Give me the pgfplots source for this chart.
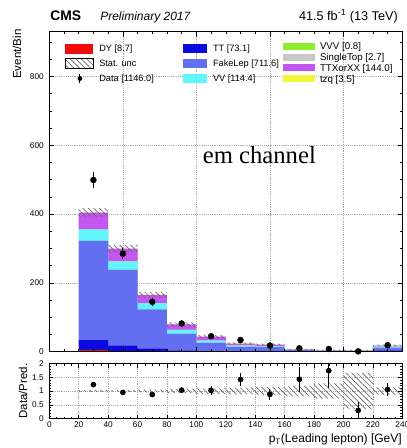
\documentclass[border=0pt]{standalone}
\usepackage{fontspec}
\setmainfont{Liberation Sans}
\newfontfamily\serif{Liberation Serif}
\usepackage{pgfplots}
\usepackage{pgfplotstable}
\pgfplotsset{compat=1.18}
\usetikzlibrary{patterns.meta}

\definecolor{cDY}{RGB}{245,10,10}
\definecolor{cTT}{RGB}{10,10,225}
\definecolor{cFake}{RGB}{100,110,240}
\definecolor{cVV}{RGB}{95,245,250}
\definecolor{cVVV}{RGB}{140,238,45}
\definecolor{cST}{RGB}{200,200,200}
\definecolor{cTTX}{RGB}{195,85,240}
\definecolor{ctzq}{RGB}{245,245,55}

\pgfplotstableread{
x DY TT Fake VV VVV ST TTX tzq
20 5.5 30 286.5 33 0.2 0.6 48.4 0.8
40 0.5 18 219.5 24 0.2 0.6 36.5 0.7
60 2.0 8 113 18 0.1 0.4 24 0.5
80 0.3 4 48 11 0.1 0.3 15.5 0.3
100 0.1 3 23 6 0.05 0.2 11.35 0.3
120 0.1 2 13 3 0.05 0.1 5.55 0.2
140 0.1 1.5 11.5 2.5 0.05 0.1 4.65 0.1
160 0 1 3.5 1 0.02 0.05 1.33 0.1
180 0 0.5 2.3 0.6 0.02 0.05 1.08 0.05
200 0 0.5 1.8 0.4 0.01 0.05 0.59 0.05
220 0.1 3.5 8.5 2.5 0.1 0.2 2.9 0.2
240 0.1 3.5 8.5 2.5 0.1 0.2 2.9 0.2
}\hist

% stat. band: lower edge and full width
\pgfplotstableread{
x lo w
20 392.85 24.3
40 289.5 21.0
60 157.7 16.6
80 73.54 11.92
100 39.6 8.8
120 21.12 5.76
140 17.63 5.74
160 5.67 2.66
180 3.31 2.58
200 1.16 4.48
220 15.66 4.68
240 15.66 4.68
}\unc

\pgfplotstableread{
x d e
30 499 22.3
50 285 16.9
70 145 12.0
90 82 9.1
110 45 6.7
130 34 5.8
150 18 4.2
170 10 3.2
190 8 2.8
210 1 1.0
230 19 4.4
}\data

\pgfplotstableread{
x lo w
20 0.97 0.06
40 0.965 0.07
60 0.95 0.10
80 0.925 0.15
100 0.90 0.20
120 0.88 0.24
140 0.86 0.28
160 0.81 0.38
180 0.72 0.56
200 0.34 1.32
220 0.87 0.26
240 0.87 0.26
}\runc

\pgfplotstableread{
x r e
30 1.232 0.055
50 0.950 0.056
70 0.873 0.073
90 1.031 0.114
110 1.023 0.152
130 1.417 0.243
150 0.878 0.207
170 1.429 0.452
190 1.739 0.615
210 0.294 0.294
230 1.056 0.242
}\ratio

\pgfplotsset{
  mainframe/.style={
    at={(36.98pt,72.2pt)}, anchor=south west,
    scale only axis, width=264.75pt, height=240pt,
    xmin=0, xmax=240, ymin=0, ymax=930,
    xtick={0,50,...,200}, minor xtick={10,20,...,240},
    ytick={0,200,...,800}, minor ytick={50,100,...,900},
    xticklabels={},
    tick align=inside, major tick length=3.6pt, minor tick length=1.8pt,
    tick style={black, line width=0.4pt},
    axis line style={line width=0.6pt},
    /pgf/number format/assume math mode=true,
    yticklabel style={font=\fontsize{6.2}{7}\selectfont, inner sep=0pt, xshift=-4pt},
  },
  ratioframe/.style={
    at={(36.98pt,22.1pt)}, anchor=south west,
    scale only axis, width=264.75pt, height=41.25pt,
    xmin=0, xmax=240, ymin=0, ymax=2,
    xtick={0,20,...,240}, minor xtick={5,10,...,240},
    ytick={0,0.5,1,1.5,2}, minor ytick={0.1,0.2,...,2.0},
    tick align=inside, major tick length=3pt, minor tick length=1.5pt,
    tick style={black, line width=0.4pt},
    axis line style={line width=0.6pt},
    /pgf/number format/assume math mode=true,
    yticklabel style={font=\fontsize{6.2}{7}\selectfont, inner sep=0pt, xshift=-4pt},
    xticklabel style={font=\fontsize{6.2}{7}\selectfont, inner sep=0pt, yshift=-2pt},
  },
  hatch/.style={pattern={Lines[angle=-45,distance=2.9pt,line width=0.5pt]}, pattern color=gray!80!black, draw=none},
  leg/.style={legend style={draw=none, fill=none, inner sep=0pt, outer sep=0pt,
      row sep=0pt, anchor=north west, cells={anchor=west},
      nodes={inner sep=0pt, text depth=0pt, draw=none, fill=none}}, legend cell align=left},
}

\begin{document}
\begin{tikzpicture}[x=1pt,y=1pt]
\useasboundingbox (0,0) rectangle (304.5,336);

% ---------- main stacked axis ----------
\begin{axis}[mainframe,
  grid=major, major grid style={gray!65, densely dotted, line width=0.4pt},
  stack plots=y,
  leg, legend style={at={(0.3788,0.971)}, font=\fontsize{6.9}{7}\selectfont},
]
\addlegendimage{draw=none, legend image code/.code={\fill[cTT, draw=none] (0pt,-3.4pt) rectangle (18pt,3.4pt); \path[draw=none, fill=none] (0pt,-5.625pt) rectangle (22.5pt,5.625pt);}}
\addlegendentry{TT [73.1]}
\addlegendimage{draw=none, legend image code/.code={\fill[cFake, draw=none] (0pt,-3.4pt) rectangle (18pt,3.4pt); \path[draw=none, fill=none] (0pt,-5.625pt) rectangle (22.5pt,5.625pt);}}
\addlegendentry{FakeLep [711.6]}
\addlegendimage{draw=none, legend image code/.code={\fill[cVV, draw=none] (0pt,-3.4pt) rectangle (18pt,3.4pt); \path[draw=none, fill=none] (0pt,-5.625pt) rectangle (22.5pt,5.625pt);}}
\addlegendentry{VV [114.4]}

\addplot[fill=cDY, draw=none, const plot mark left] table[x=x,y=DY]{\hist} \closedcycle;
\addplot[fill=cTT, draw=none, const plot mark left] table[x=x,y=TT]{\hist} \closedcycle;
\addplot[fill=cFake, draw=none, const plot mark left] table[x=x,y=Fake]{\hist} \closedcycle;
\addplot[fill=cVV, draw=none, const plot mark left] table[x=x,y=VV]{\hist} \closedcycle;
\addplot[fill=cVVV, draw=none, const plot mark left] table[x=x,y=VVV]{\hist} \closedcycle;
\addplot[fill=cST, draw=none, const plot mark left] table[x=x,y=ST]{\hist} \closedcycle;
\addplot[fill=cTTX, draw=none, const plot mark left] table[x=x,y=TTX]{\hist} \closedcycle;
\addplot[fill=ctzq, draw=none, const plot mark left] table[x=x,y=tzq]{\hist} \closedcycle;
\end{axis}

% ---------- hatched stat. band (stacked: invisible lower edge + width) ----------
\begin{axis}[mainframe, hide axis, stack plots=y,
  leg, legend style={at={(0.0445,0.971)}, font=\fontsize{6.9}{7}\selectfont},
]
\addlegendimage{draw=none, legend image code/.code={\fill[cDY, draw=none] (0pt,-3.75pt) rectangle (21pt,3.75pt); \path[draw=none, fill=none] (0pt,-5.625pt) rectangle (25.5pt,5.625pt);}}
\addlegendentry{DY [8.7]}
\addlegendimage{draw=none, legend image code/.code={\path[pattern={Lines[angle=-45,distance=2.9pt,line width=0.5pt]}, pattern color=gray!80!black, draw=black, line width=0.4pt] (0pt,-3.75pt) rectangle (21pt,3.75pt); \path[draw=none, fill=none] (0pt,-5.625pt) rectangle (25.5pt,5.625pt);}}
\addlegendentry{Stat. unc}
\addlegendimage{draw=none, legend image code/.code={\draw[black, line width=0.75pt] (11pt,-3.2pt) -- (11pt,3.2pt); \fill[black, draw=none] (11pt,0pt) circle (1.8pt); \path[draw=none, fill=none] (0pt,-5.625pt) rectangle (25.5pt,5.625pt);}}
\addlegendentry{Data [1146.0]}
\addplot[draw=none, fill=none, const plot mark left] table[x=x,y=lo]{\unc} \closedcycle;
\addplot[hatch, const plot mark left] table[x=x,y=w]{\unc} \closedcycle;
\end{axis}

% ---------- overlay: frame/ticks on top, data, third legend column ----------
\begin{axis}[mainframe, yticklabels={},
  leg, legend style={at={(0.662,0.971)}, font=\fontsize{7.3}{8}\selectfont},
]
\addlegendimage{draw=none, legend image code/.code={\fill[cVVV, draw=none] (0pt,-2.6pt) rectangle (24pt,2.6pt); \path[draw=none, fill=none] (0pt,-4.02pt) rectangle (27.75pt,4.02pt);}}
\addlegendentry{VVV [0.8]}
\addlegendimage{draw=none, legend image code/.code={\fill[cST, draw=none] (0pt,-2.6pt) rectangle (24pt,2.6pt); \path[draw=none, fill=none] (0pt,-4.02pt) rectangle (27.75pt,4.02pt);}}
\addlegendentry{SingleTop [2.7]}
\addlegendimage{draw=none, legend image code/.code={\fill[cTTX, draw=none] (0pt,-2.6pt) rectangle (24pt,2.6pt); \path[draw=none, fill=none] (0pt,-4.02pt) rectangle (27.75pt,4.02pt);}}
\addlegendentry{TTXorXX [144.0]}
\addlegendimage{draw=none, legend image code/.code={\fill[ctzq, draw=none] (0pt,-2.6pt) rectangle (24pt,2.6pt); \path[draw=none, fill=none] (0pt,-4.02pt) rectangle (27.75pt,4.02pt);}}
\addlegendentry{tzq [3.5]}
\addplot[only marks, mark=*, mark size=2.2pt, black,
  error bars/.cd, y dir=both, y explicit, error mark=none,
  error bar style={line width=0.8pt, black}]
  table[x=x, y=d, y error=e]{\data};
\end{axis}

% ---------- ratio panel ----------
\begin{axis}[ratioframe, stack plots=y,
  grid=major, major grid style={gray!65, densely dotted, line width=0.4pt},
]
\addplot[draw=none, fill=none, const plot mark left] table[x=x,y=lo]{\runc} \closedcycle;
\addplot[hatch, const plot mark left] table[x=x,y=w]{\runc} \closedcycle;
\end{axis}
\begin{axis}[ratioframe, hide axis]
\addplot[only marks, mark=*, mark size=1.9pt, black,
  error bars/.cd, y dir=both, y explicit, error mark=none,
  error bar style={line width=0.8pt, black}]
  table[x=x, y=r, y error=e]{\ratio};
\end{axis}

% ---------- texts ----------
\node[anchor=base west, inner sep=0pt, font=\fontsize{10.4}{12}\selectfont\bfseries] at (37.5,320.5) {CMS};
\node[anchor=base west, inner sep=0pt, font=\fontsize{9}{11}\selectfont\itshape] at (75,320.5) {Preliminary 2017};
\node[anchor=base east, inner sep=0pt, font=\fontsize{9.5}{11}\selectfont] at (298.5,320.5) {41.5 fb\textsuperscript{-1} (13 TeV)};
\node[rotate=90, anchor=east, inner sep=0pt, font=\fontsize{8.6}{10}\selectfont] at (12.75,314) {Event/Bin};
\node[rotate=90, anchor=center, inner sep=0pt, font=\fontsize{8.6}{10}\selectfont] at (17.25,42.75) {Data/Pred.};
\node[anchor=base east, inner sep=0pt, font=\fontsize{9}{11}\selectfont] at (301.5,4) {p\textsubscript{T}(Leading lepton) [GeV]};
\node[anchor=base, inner sep=0pt, font=\fontsize{18.5}{20}\serif] at (194.5,213) {em channel};
\end{tikzpicture}
\end{document}
